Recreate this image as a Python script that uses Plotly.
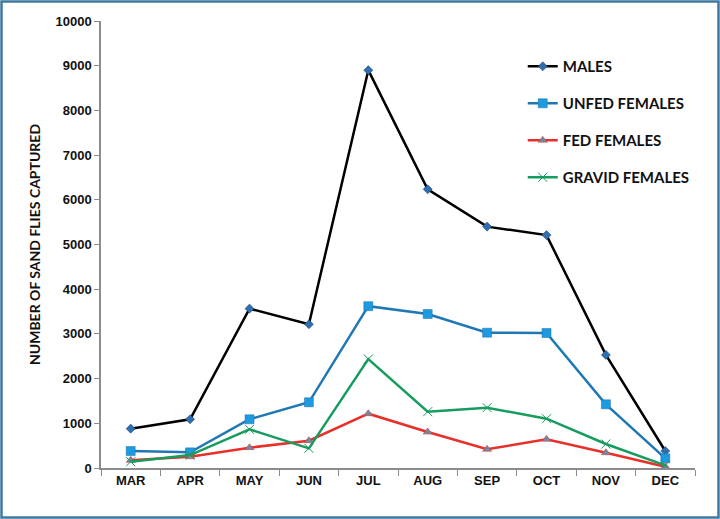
import plotly.graph_objects as go

months = ["MAR", "APR", "MAY", "JUN", "JUL", "AUG", "SEP", "OCT", "NOV", "DEC"]
males = [880, 1090, 3565, 3215, 8900, 6235, 5400, 5210, 2530, 380]
unfed_females = [380, 350, 1090, 1470, 3620, 3445, 3027, 3020, 1425, 217]
fed_females = [172, 250, 455, 611, 1215, 805, 418, 642, 342, 30]
gravid_females = [141, 290, 865, 440, 2438, 1260, 1350, 1103, 537, 60]

W, H = 720, 519
L, R, T, B = 101, 25, 21, 51

fig = go.Figure()
fig.add_trace(go.Scatter(
    x=months, y=males, name="MALES", mode="lines+markers", legendgroup="a",
    line=dict(color="#000000", width=2.5),
    marker=dict(symbol="diamond", size=7, color="#2f6fb0", line=dict(color="#1d3f66", width=0.5))))
fig.add_trace(go.Scatter(
    x=months, y=unfed_females, name="UNFED FEMALES", mode="lines+markers", legendgroup="b",
    line=dict(color="#1f78b4", width=2.5),
    marker=dict(symbol="square", size=9, color="#1e9be0", line=dict(color="#1f6fa8", width=0.5))))
fig.add_trace(go.Scatter(
    x=months, y=fed_females, name="FED FEMALES", mode="lines+markers", legendgroup="c",
    line=dict(color="#e8302a", width=2.5),
    marker=dict(symbol="triangle-up", size=8, color="#6d8aa3", line=dict(color="#e8302a", width=0.5))))
fig.add_trace(go.Scatter(
    x=months, y=gravid_females, name="GRAVID FEMALES", mode="lines+markers", legendgroup="d",
    line=dict(color="#169c5e", width=2.5),
    marker=dict(symbol="x-thin", size=9, color="#169c5e", line=dict(color="#169c5e", width=1))))

pw = W - L - R
ph = H - T - B
fig.add_shape(type="rect", xref="paper", yref="paper",
              x0=(-L + 1.5) / pw, x1=(pw + R - 1.5) / pw,
              y0=(-B + 1.5) / ph, y1=(ph + T - 1.5) / ph,
              line=dict(color="#3f78a0", width=2.5), layer="below")

fig.update_layout(
    width=W, height=H,
    margin=dict(l=L, r=R, t=T, b=B),
    paper_bgcolor="white", plot_bgcolor="white",
    showlegend=True,
    legend=dict(x=0.71, y=0.935, xanchor="left", yanchor="top",
                font=dict(family="Lato", size=15, color="#111111", weight="bold"),
                tracegroupgap=14.5, bgcolor="rgba(0,0,0,0)"),
    xaxis=dict(type="category", range=[-0.5, 9.5], showline=True, linecolor="#8c8c8c", linewidth=1.5,
               ticks="outside", tickson="boundaries", ticklen=6, tickcolor="#8c8c8c",
               showgrid=False, zeroline=False,
               tickfont=dict(family="Liberation Sans", size=13, color="#111111", weight="bold")),
    yaxis=dict(range=[0, 10000], dtick=1000, tickformat="d", showline=True, linecolor="#8c8c8c", linewidth=1.5,
               ticks="outside", ticklen=5, tickcolor="#8c8c8c", showgrid=False, zeroline=False,
               tickfont=dict(family="Liberation Sans", size=13, color="#111111", weight="bold"),
               title=dict(text="NUMBER OF SAND FLIES CAPTURED", standoff=12,
                          font=dict(family="Lato", size=14, color="#111111", weight="bold"))),
)

fig.write_html("out.html", config={"displayModeBar": False},
               post_script="document.body.style.margin='0';document.body.style.overflow='hidden';")
